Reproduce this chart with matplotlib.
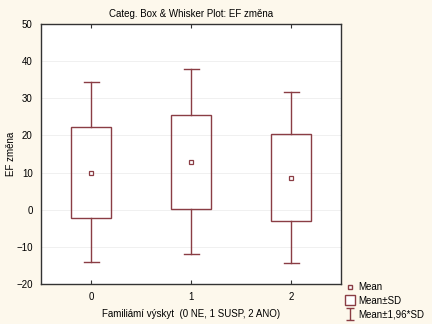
import matplotlib.pyplot as plt
from matplotlib.lines import Line2D
from matplotlib.patches import Rectangle
from matplotlib.path import Path

plt.rcParams['font.family'] = ['Liberation Sans', 'DejaVu Sans']

# values
groups = [0, 1, 2]
means = [10.0, 12.9, 8.6]
box_lo = [-2.3, 0.2, -3.1]      # mean - SD
box_hi = [22.3, 25.6, 20.3]     # mean + SD
whisk_lo = [-14.1, -12.0, -14.4]  # mean - 1.96*SD
whisk_hi = [34.3, 38.0, 31.6]     # mean + 1.96*SD

col = '#8a3d44'
bg = '#fdf8ec'

fig = plt.figure(figsize=(4.32, 3.24), dpi=100, facecolor=bg)
ax = fig.add_axes([41 / 432, 40 / 324, 300 / 432, 260 / 324])
ax.set_facecolor('white')

bw = 0.4
cw = 0.15
for g, m, bl, bh, wl, wh in zip(groups, means, box_lo, box_hi, whisk_lo, whisk_hi):
    ax.add_patch(Rectangle((g - bw / 2, bl), bw, bh - bl, fill=False,
                           edgecolor=col, lw=1.0, zorder=3))
    ax.plot([g, g], [bh, wh], color=col, lw=1.0, zorder=3)
    ax.plot([g, g], [wl, bl], color=col, lw=1.0, zorder=3)
    ax.plot([g - cw / 2, g + cw / 2], [wh, wh], color=col, lw=1.0, zorder=3)
    ax.plot([g - cw / 2, g + cw / 2], [wl, wl], color=col, lw=1.0, zorder=3)
    ax.plot(g, m, marker='s', ms=3.5, mfc='white', mec=col, mew=0.9, zorder=4)

ax.set_xlim(-0.5, 2.5)
ax.set_ylim(-20, 50)
ax.set_xticks(groups)
ax.set_yticks(range(-20, 51, 10))
ax.yaxis.grid(True, color='#eeeeee', lw=0.6)
ax.set_axisbelow(True)
ax.tick_params(axis='x', which='both', direction='in', top=True, length=3,
               labelsize=7, color='#333333', pad=6)
ax.tick_params(axis='y', length=0, labelsize=7, pad=6)
for s in ax.spines.values():
    s.set_color('#333333')
    s.set_linewidth(1.0)

ax.set_title('Categ. Box & Whisker Plot: EF změna', fontsize=7, pad=5)
ax.set_xlabel('Familiámí výskyt  (0 NE, 1 SUSP, 2 ANO)', fontsize=7, labelpad=5)
ax.set_ylabel('EF změna', fontsize=7, va='center')
ax.yaxis.set_label_coords(-0.10, 0.5)

# I-beam marker for the legend
ibeam = Path([(-0.6, 1), (0.6, 1), (0, 1), (0, -1), (-0.6, -1), (0.6, -1)],
             [Path.MOVETO, Path.LINETO, Path.MOVETO, Path.LINETO,
              Path.MOVETO, Path.LINETO])
handles = [
    Line2D([], [], marker='s', ms=3, mfc='white', mec=col, ls='none'),
    Line2D([], [], marker='s', ms=7, mfc='white', mec=col, ls='none'),
    Line2D([], [], marker=ibeam, ms=9, mec=col, mew=1.0, ls='none'),
]
fig.legend(handles, ['Mean', 'Mean±SD', 'Mean±1,96*SD'],
           loc='lower left', bbox_to_anchor=(338 / 432, -2 / 324),
           frameon=False, fontsize=7, handlelength=1.0, handletextpad=0.35,
           labelspacing=0.35, borderpad=0.2)

fig.savefig('out.png', dpi=100, facecolor=bg)
